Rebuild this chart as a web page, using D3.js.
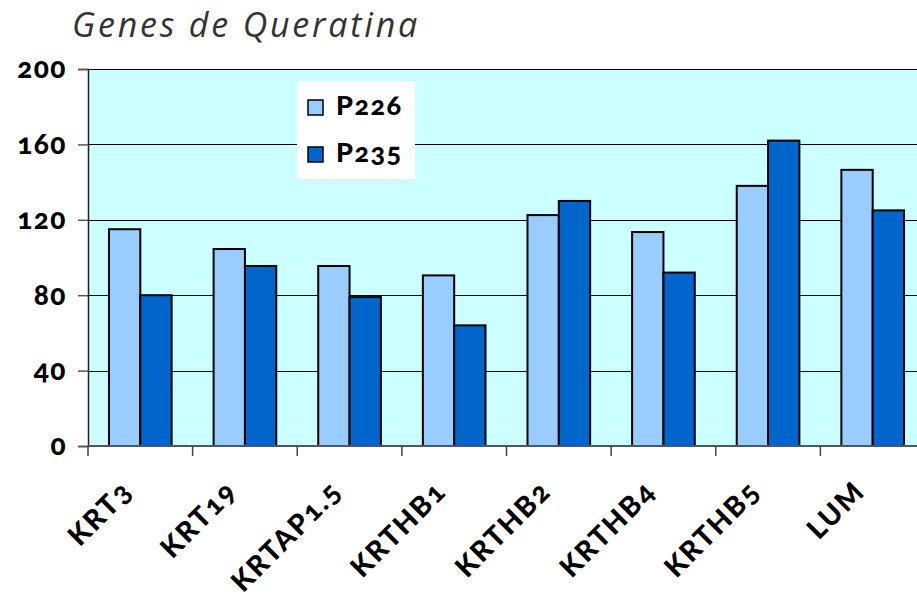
<!DOCTYPE html>
<html>
<head>
<meta charset="utf-8">
<script src="https://cdn.jsdelivr.net/npm/d3@7"></script>
<style>
    body { margin: 0; background: #ffffff; }
    svg text { font-family: Lato, "Open Sans", sans-serif; font-feature-settings: "onum"; }
</style>
</head>
<body>
<svg id="SVG_CONTAINER" width="917" height="600"></svg>
<script>
const genes = ["KRT3", "KRT19", "KRTAP1.5", "KRTHB1", "KRTHB2", "KRTHB4", "KRTHB5", "LUM"];
const seriesNames = ["P226", "P235"];
const p226 = [115, 104.5, 95.5, 90.5, 122.5, 113.5, 138, 146.5];
const p235 = [80, 95.5, 79, 64, 130, 92, 162, 125];
const yTicks = [0, 40, 80, 120, 160, 200];

const MARGIN = { LEFT: 88, RIGHT: -8, TOP: 69, BOTTOM: 154 };
const width = 917, height = 600;
const colours = ["#99ccff", "#0066cc"];

let svg = d3.select("#SVG_CONTAINER");

//** SCALES *****************************************
let xScale = d3.scaleBand()
    .domain(genes)
    .range([MARGIN.LEFT, width - MARGIN.RIGHT]);

let inner = d3.scaleBand()
    .domain(seriesNames)
    .range([0, xScale.bandwidth()])
    .paddingOuter(0.67);

let yScale = d3.scaleLinear()
    .domain([0, 200])
    .range([height - MARGIN.BOTTOM, MARGIN.TOP]);

//plot background
svg.append("rect")
    .attr("x", MARGIN.LEFT)
    .attr("y", MARGIN.TOP)
    .attr("width", width - MARGIN.RIGHT - MARGIN.LEFT)
    .attr("height", yScale(0) - MARGIN.TOP)
    .style("fill", "#ccffff");

//gridlines
svg.append("g")
    .selectAll("line")
    .data(yTicks.slice(1))
    .enter()
    .append("line")
    .attr("x1", MARGIN.LEFT)
    .attr("x2", width)
    .attr("y1", d => Math.round(yScale(d)) + 0.5)
    .attr("y2", d => Math.round(yScale(d)) + 0.5)
    .style("stroke", "#000")
    .style("stroke-width", 1.2);

//** BARS *****************************************
let rows = genes.map((g, i) => ({ gene: g, values: [p226[i], p235[i]] }));

let groups = svg.append("g")
    .selectAll("g")
    .data(rows)
    .enter()
    .append("g")
    .attr("transform", d => "translate(" + xScale(d.gene) + ",0)");

groups.selectAll("rect")
    .data(d => d.values.map((v, j) => ({ key: seriesNames[j], value: v, j: j })))
    .enter()
    .append("rect")
    .attr("x", d => inner(d.key))
    .attr("y", d => yScale(d.value))
    .attr("width", inner.bandwidth())
    .attr("height", d => yScale(0) - yScale(d.value))
    .style("fill", d => colours[d.j])
    .style("stroke", "#000")
    .style("stroke-width", 2);

//** AXES *****************************************
let yAxis = d3.axisLeft(yScale)
    .tickValues(yTicks)
    .tickSize(10)
    .tickPadding(11);

let yG = svg.append("g")
    .attr("transform", "translate(" + MARGIN.LEFT + ",0)")
    .call(yAxis);
yG.select(".domain").style("stroke", "#222").style("stroke-width", 1.5);
yG.selectAll(".tick line").style("stroke", "#555").style("stroke-width", 1.5);
yG.selectAll(".tick text")
    .style("font-size", "28px")
    .style("font-weight", "900")
    .style("letter-spacing", "1.5px")
    .style("fill", "#000");

//x axis ticks at band boundaries
let xG = svg.append("g")
    .attr("transform", "translate(0," + yScale(0) + ")");
xG.append("line")
    .attr("x1", MARGIN.LEFT)
    .attr("x2", width)
    .style("stroke", "#555")
    .style("stroke-width", 2);
xG.selectAll(".xtick")
    .data(genes)
    .enter()
    .append("line")
    .attr("class", "xtick")
    .attr("x1", d => xScale(d))
    .attr("x2", d => xScale(d))
    .attr("y1", 0)
    .attr("y2", 10)
    .style("stroke", "#444")
    .style("stroke-width", 1.5);

xG.selectAll(".xlabel")
    .data(genes)
    .enter()
    .append("text")
    .attr("class", "xlabel")
    .attr("text-anchor", "end")
    .attr("transform", d => "translate(" + (xScale(d) + xScale.bandwidth() / 2 - 6) + ",47) rotate(-45)")
    .style("font-size", "28px")
    .style("font-weight", "900")
    .style("letter-spacing", "2px")
    .style("fill", "#000")
    .text(d => d);

//** TITLE *****************************************
svg.append("text")
    .attr("x", 72)
    .attr("y", 37)
    .style("font-family", "'Open Sans', sans-serif")
    .style("font-size", "34px")
    .style("font-style", "italic")
    .style("letter-spacing", "2.8px")
    .style("fill", "#333")
    .text("Genes de Queratina");

//** LEGEND *****************************************
let legend = svg.append("g")
    .attr("transform", "translate(297,81)");
legend.append("rect")
    .attr("width", 118)
    .attr("height", 98)
    .style("fill", "#fff");
let items = legend.selectAll(".item")
    .data(seriesNames)
    .enter()
    .append("g")
    .attr("transform", (d, i) => "translate(11," + (19 + i * 47) + ")");
items.append("rect")
    .attr("width", 15)
    .attr("height", 15)
    .style("fill", (d, i) => colours[i])
    .style("stroke", "#000")
    .style("stroke-width", 1.5);
items.append("text")
    .attr("x", 28)
    .attr("y", 15)
    .style("font-size", "27px")
    .style("font-weight", "900")
    .style("letter-spacing", "1.5px")
    .style("fill", "#000")
    .text(d => d);
</script>
</body>
</html>
